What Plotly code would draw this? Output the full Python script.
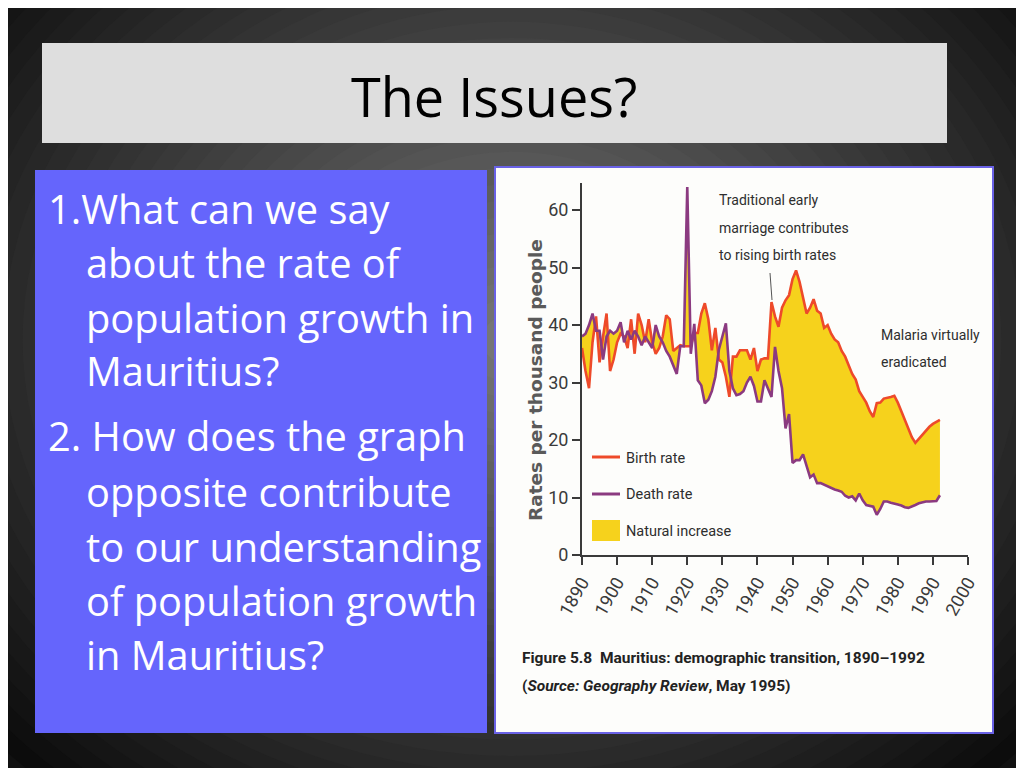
import plotly.graph_objects as go

years = list(range(1890, 1993))

birth_rate = [
    36, 32, 29, 37, 41.5, 33.5, 38, 42, 32, 34,
    37, 38.5, 38, 36, 41, 35, 42, 40, 37, 41,
    37, 35, 36, 38, 41.7, 41, 35.5, 36, 36.5, 36.3,
    36.3, 36.3, 38.6, 38.6, 42, 43.8, 41, 35.6, 39.5, 34,
    33.5, 31, 27.5, 34.5, 34.5, 35.6, 35.6, 35.6, 34, 36,
    32, 34, 34.2, 34.2, 44, 41.5, 39.7, 43, 44.3, 45.2,
    48, 49.5, 47.5, 45, 42, 43, 44.5, 42.5, 42, 39.5,
    40, 38.5, 37.5, 37, 35.5, 34.5, 33, 31.5, 30.5, 28.5,
    27.5, 26.5, 25, 24, 26.4, 26.5, 27.2, 27.3, 27.5, 27.7,
    26.5, 25, 23.5, 22, 20.5, 19.5, 20.2, 21, 21.6, 22.3,
    22.8, 23.2, 23.5,
]

death_rate = [
    38, 38.5, 40, 42, 39, 39, 34, 38, 39, 38.5,
    39, 40.5, 37, 39, 37.5, 39, 38, 36.5, 38, 37,
    36, 40, 38, 37, 35.5, 34.5, 33, 31.5, 36.3, 36.3,
    64, 35, 40.2, 30.4, 29.5, 26.4, 27, 28.5, 31, 35.7,
    38, 40.3, 32, 29, 27.8, 28, 28.5, 30, 31, 29.4,
    26.7, 26.7, 30.4, 29, 27.5, 36.2, 32, 29, 22, 24.5,
    16, 16.5, 16.5, 17.5, 15.5, 13.5, 14, 12.5, 12.5, 12.2,
    12, 11.7, 11.4, 11.2, 11, 10.3, 10, 10.2, 9.5, 10.7,
    9.5, 8.7, 8.6, 8.4, 7.0, 8.0, 9.3, 9.3, 9.1, 9.0,
    8.8, 8.6, 8.3, 8.2, 8.4, 8.7, 9.0, 9.2, 9.3, 9.3,
    9.3, 9.4, 10.4,
]

x_ticks = list(range(1890, 2001, 10))
y_ticks = list(range(0, 61, 10))

ZW = "\u200c"  # keeps "t" and "i" apart (no ligature)
def nolig(s):
    return s.replace("ti", "t" + ZW + "i")

question_lines = [
    ("1.What can we say", 46, 208),
    ("about the rate of", 84, 262),
    ("population growth in", 84, 317),
    ("Mauritius?", 84, 370),
    ("2. How does the graph", 46, 435),
    ("opposite contribute", 84, 491),
    ("to our understanding", 84, 546),
    ("of population growth", 84, 600),
    ("in Mauritius?", 84, 654),
]
note1_lines = [("Traditional early", 200), ("marriage contributes", 228), ("to rising birth rates", 255)]
note2_lines = [("Malaria virtually", 335), ("eradicated", 362)]
legend_items = [("Birth rate", 458), ("Death rate", 494), ("Natural increase", 531)]

W, H = 1024, 768
OFF = 8  # page offset of the figure in the screenshot
def px(x):
    return (x - OFF) / W
def py(y):
    return 1 - (y - OFF) / H

BIRTH = "#ee4a2a"
DEATH = "#8b3a80"
YELLOW = "#f6d21c"
NARROW = "Roboto, sans-serif"
TXT = "#2e2e2e"
SLIDE_FONT = "Open Sans, Noto Sans, sans-serif"

fig = go.Figure()

fig.add_trace(go.Scatter(x=years, y=death_rate, mode="lines",
                         line=dict(width=0, color=DEATH), showlegend=False, hoverinfo="skip"))
fig.add_trace(go.Scatter(x=years, y=birth_rate, mode="lines", fill="tonexty",
                         fillcolor=YELLOW, line=dict(width=0, color=YELLOW),
                         name="Natural increase", showlegend=False))
fig.add_trace(go.Scatter(x=years, y=birth_rate, mode="lines",
                         line=dict(width=2.6, color=BIRTH), name="Birth rate", showlegend=False))
fig.add_trace(go.Scatter(x=years, y=death_rate, mode="lines",
                         line=dict(width=2.6, color=DEATH), name="Death rate", showlegend=False))

shapes = []
# radial background
N = 36
cx, cy = 512, 340
for i in range(N):
    t = i / (N - 1)
    r = 700 * (1 - t) + 30 * t
    g = int(12 + (118 - 12) * t)
    col = f"rgb({g},{g},{g})"
    shapes.append(dict(type="circle", xref="paper", yref="paper",
                       x0=px(cx - r), x1=px(cx + r), y0=py(cy + r * 0.85), y1=py(cy - r * 0.85),
                       fillcolor=col, line=dict(width=0), layer="below"))
# title box
shapes.append(dict(type="rect", xref="paper", yref="paper", x0=px(42), x1=px(947),
                   y0=py(143), y1=py(43), fillcolor="#dedede", line=dict(width=0), layer="below"))
# blue box
shapes.append(dict(type="rect", xref="paper", yref="paper", x0=px(35), x1=px(487),
                   y0=py(733), y1=py(170), fillcolor="#6565fc", line=dict(width=0), layer="below"))
# chart image box
shapes.append(dict(type="rect", xref="paper", yref="paper", x0=px(495), x1=px(993),
                   y0=py(733), y1=py(167), fillcolor="#fdfdfb",
                   line=dict(width=2, color="#6a62e6"), layer="below"))
# legend swatches
shapes.append(dict(type="line", xref="paper", yref="paper", x0=px(592), x1=px(620),
                   y0=py(457), y1=py(457), line=dict(width=3, color=BIRTH)))
shapes.append(dict(type="line", xref="paper", yref="paper", x0=px(592), x1=px(620),
                   y0=py(494), y1=py(494), line=dict(width=3, color=DEATH)))
shapes.append(dict(type="rect", xref="paper", yref="paper", x0=px(592), x1=px(620),
                   y0=py(541), y1=py(520), fillcolor=YELLOW, line=dict(width=0)))
# pointer line
shapes.append(dict(type="line", xref="paper", yref="paper", x0=px(770), x1=px(772),
                   y0=py(273), y1=py(300), line=dict(width=1, color="#555555")))

annotations = []
annotations.append(dict(text="The Issues?", xref="paper", yref="paper", x=px(494), y=py(96),
                        xanchor="center", yanchor="middle", showarrow=False,
                        font=dict(family=SLIDE_FONT, size=54, color="#000000")))
for txt, x, y in question_lines:
    annotations.append(dict(text=nolig(txt), xref="paper", yref="paper", x=px(x), y=py(y),
                            xanchor="left", yanchor="middle", showarrow=False,
                            font=dict(family=SLIDE_FONT, size=39.8, color="#ffffff")))
annotations.append(dict(text="<b>Rates per thousand people</b>", xref="paper", yref="paper",
                        x=px(535), y=py(380), textangle=-90, xanchor="center", yanchor="middle",
                        showarrow=False,
                        font=dict(family="DejaVu Sans, sans-serif", size=18.5, color="#5a5a5a")))
for txt, y in legend_items:
    annotations.append(dict(text=txt, xref="paper", yref="paper", x=px(624), y=py(y),
                            xanchor="left", yanchor="middle", showarrow=False,
                            font=dict(family=NARROW, size=14.5, color=TXT)))
for txt, y in note1_lines:
    annotations.append(dict(text=txt, xref="paper", yref="paper", x=px(717), y=py(y),
                            xanchor="left", yanchor="middle", showarrow=False,
                            font=dict(family=NARROW, size=14, color=TXT)))
for txt, y in note2_lines:
    annotations.append(dict(text=txt, xref="paper", yref="paper", x=px(879), y=py(y),
                            xanchor="left", yanchor="middle", showarrow=False,
                            font=dict(family=NARROW, size=14, color=TXT)))
annotations.append(dict(text="<b>Figure 5.8  Mauritius: demographic transition, 1890–1992</b>",
                        xref="paper", yref="paper", x=px(520), y=py(658), align="left",
                        xanchor="left", yanchor="middle", showarrow=False,
                        font=dict(family=NARROW, size=15.5, color="#222222")))
annotations.append(dict(text="<b>(<i>Source: Geography Review</i>, May 1995)</b>",
                        xref="paper", yref="paper", x=px(520), y=py(686), align="left",
                        xanchor="left", yanchor="middle", showarrow=False,
                        font=dict(family=NARROW, size=15.5, color="#222222")))

axis_common = dict(showgrid=False, zeroline=False, showline=True, linecolor="#3a3a3a",
                   linewidth=2, ticks="outside", ticklen=8, tickwidth=2, tickcolor="#3a3a3a",
                   automargin=False,
                   tickfont=dict(family=NARROW, size=18, color="#3a3a3a"))

fig.update_layout(
    width=W, height=H, autosize=False,
    margin=dict(l=0, r=0, t=0, b=0, pad=0, autoexpand=False),
    paper_bgcolor="#111111", plot_bgcolor="rgba(0,0,0,0)",
    shapes=shapes, annotations=annotations, showlegend=False,
    xaxis=dict(domain=[px(582), px(968)], range=[1890, 2000], tickvals=x_ticks,
               tickangle=-60, **axis_common),
    yaxis=dict(domain=[py(555), py(183)], range=[0, 64.7], tickvals=y_ticks, **axis_common),
)

fig.write_html("out.html")
